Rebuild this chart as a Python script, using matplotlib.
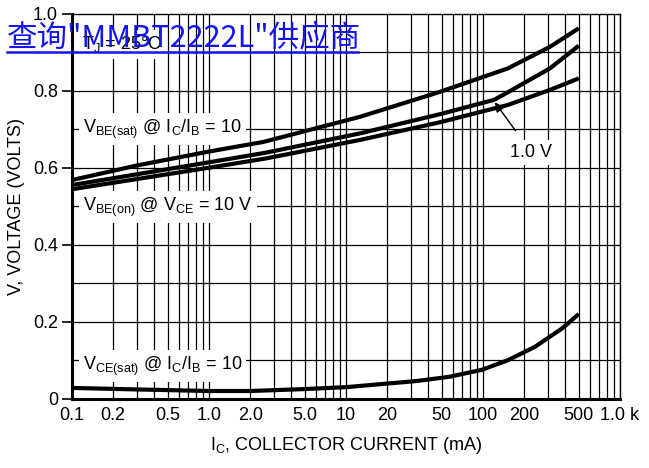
import matplotlib.pyplot as plt
from matplotlib import font_manager
from matplotlib.lines import Line2D
from matplotlib.ticker import FixedLocator, NullFormatter, NullLocator

# narrow sans face if present, otherwise the regular one
names = {f.name for f in font_manager.fontManager.ttflist}
narrow = 'Liberation Sans Narrow' in names
base = 'Liberation Sans Narrow' if narrow else 'Liberation Sans'
fs = 14 if narrow else 13
plt.rcParams['font.family'] = [base, 'DejaVu Sans']
plt.rcParams['mathtext.fontset'] = 'custom'
plt.rcParams['mathtext.rm'] = base
plt.rcParams['mathtext.it'] = base
plt.rcParams['mathtext.bf'] = base

# curves (IC in mA, V in volts)
ic_be_sat = [0.1, 0.3, 1.0, 2.5, 12.6, 48.5, 152, 308, 500]
v_be_sat = [0.568, 0.606, 0.642, 0.667, 0.732, 0.797, 0.858, 0.914, 0.962]

ic_be_1v = [0.1, 1.0, 2.6, 12.6, 48.5, 120, 152, 308, 500]
v_be_1v = [0.555, 0.614, 0.639, 0.689, 0.739, 0.776, 0.796, 0.858, 0.917]

ic_be_10v = [0.1, 1.0, 2.6, 12.6, 48.5, 152, 308, 500]
v_be_10v = [0.544, 0.600, 0.624, 0.672, 0.718, 0.763, 0.802, 0.832]

ic_ce_sat = [0.1, 0.3, 1.0, 2.0, 5.0, 10, 33, 57, 98, 152, 240, 380, 500]
v_ce_sat = [0.028, 0.024, 0.020, 0.020, 0.025, 0.030, 0.046, 0.057, 0.075, 0.100, 0.135, 0.183, 0.220]

x_ticks = [0.1, 0.2, 0.5, 1.0, 2.0, 5.0, 10, 20, 50, 100, 200, 500, 1000]
x_tick_labels = ['0.1', '0.2', '0.5', '1.0', '2.0', '5.0', '10', '20', '50', '100', '200', '500', '1.0 k']
y_ticks = [0, 0.2, 0.4, 0.6, 0.8, 1.0]
y_tick_labels = ['0', '0.2', '0.4', '0.6', '0.8', '1.0']

fig = plt.figure(figsize=(6.49, 4.68), dpi=100)
ax = fig.add_axes([72 / 649, 1 - 398.7 / 468, 548 / 649, 385 / 468])

for ic, v in [(ic_be_sat, v_be_sat), (ic_be_1v, v_be_1v), (ic_be_10v, v_be_10v), (ic_ce_sat, v_ce_sat)]:
    ax.plot(ic, v, color='black', lw=3.0, solid_capstyle='butt', solid_joinstyle='round', zorder=4)

ax.set_xscale('log')
ax.set_xlim(0.1, 1000)
ax.set_ylim(0, 1.0)

# grid: every 1..9 per decade, every 0.1 V
grid_x = [m * 10 ** e for e in range(-1, 3) for m in range(1, 10)] + [1000]
for gx in grid_x:
    ax.axvline(gx, color='black', lw=0.9, zorder=1)
for k in range(1, 10):
    ax.axhline(k / 10, color='black', lw=0.9, zorder=1)

ax.xaxis.set_major_locator(FixedLocator(x_ticks))
ax.xaxis.set_minor_locator(NullLocator())
ax.xaxis.set_minor_formatter(NullFormatter())
ax.set_xticklabels(x_tick_labels)
ax.set_yticks(y_ticks)
ax.set_yticklabels(y_tick_labels)
ax.tick_params(axis='x', length=0, pad=6, labelsize=fs)
ax.tick_params(axis='y', length=7, width=1.2, direction='out', pad=3, labelsize=fs)

for s in ['left', 'bottom']:
    ax.spines[s].set_linewidth(2.2)
for s in ['top', 'right']:
    ax.spines[s].set_linewidth(1.0)

ax.set_xlabel(r'I$_\mathrm{C}$, COLLECTOR CURRENT (mA)', fontsize=fs, labelpad=8)
ax.set_ylabel('V, VOLTAGE (VOLTS)', fontsize=fs, labelpad=6)

box = dict(facecolor='white', edgecolor='none', pad=3)
ax.text(0.118, 0.92, r'T$_\mathrm{J}$ = 25°C', fontsize=fs, ha='left', va='center', bbox=box, zorder=3)
ax.text(0.12, 0.70, r'V$_\mathrm{BE(sat)}$ @ I$_\mathrm{C}$/I$_\mathrm{B}$ = 10', fontsize=fs,
        ha='left', va='center', bbox=box, zorder=3)
ax.text(0.12, 0.498, r'V$_\mathrm{BE(on)}$ @ V$_\mathrm{CE}$ = 10 V', fontsize=fs,
        ha='left', va='center', bbox=box, zorder=3)
ax.text(0.12, 0.085, r'V$_\mathrm{CE(sat)}$ @ I$_\mathrm{C}$/I$_\mathrm{B}$ = 10', fontsize=fs,
        ha='left', va='center', bbox=box, zorder=3)
ax.annotate('1.0 V', xy=(122, 0.770), xytext=(225, 0.640), fontsize=fs, ha='center', va='center',
            bbox=box, zorder=3,
            arrowprops=dict(arrowstyle='-|>', color='black', lw=1.0, mutation_scale=14,
                            shrinkA=8, shrinkB=0))

# blue link text laid over the top left
fig.text(7 / 649, 1 - 46 / 468, '查询"MMBT2222L"供应商', fontsize=22, color='#1414f0',
         family=['Noto Sans CJK SC', 'DejaVu Sans'], ha='left', va='baseline')
fig.add_artist(Line2D([7 / 649, 358 / 649], [1 - 51.7 / 468, 1 - 51.7 / 468],
                      color='#1414f0', lw=1.8))

fig.savefig('out.png', dpi=100)
